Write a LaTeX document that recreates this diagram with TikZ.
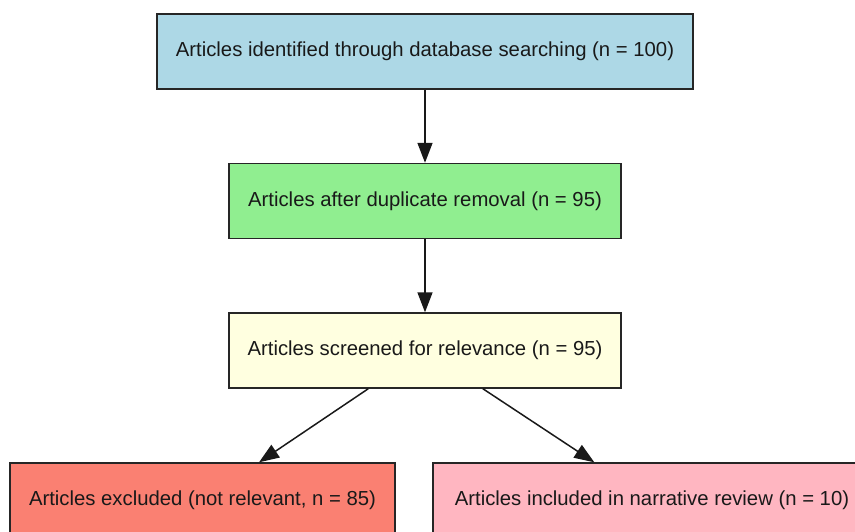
\documentclass[tikz,border=0pt]{standalone}
\usepackage{fontspec}
\setmainfont{Liberation Sans}
\usetikzlibrary{arrows.meta}
\definecolor{boxblue}{HTML}{ADD8E6}
\definecolor{boxgreen}{HTML}{90EE90}
\definecolor{boxyellow}{HTML}{FFFFE0}
\definecolor{boxsalmon}{HTML}{FA8072}
\definecolor{boxpink}{HTML}{FFB6C1}
\tikzset{
  flowbox/.style={draw=black!85, line width=1.4pt, rectangle, inner sep=0pt,
    minimum height=75pt, font=\fontsize{20.3}{24}\selectfont, text=black!90},
  flowarrow/.style={line width=1.5pt, draw=black!90,
    -{Triangle[length=20pt,width=15pt]}}
}
\begin{document}
\begin{tikzpicture}[x=1pt,y=-1pt]
  \useasboundingbox (0,0) rectangle (855,532);
  \node[flowbox, fill=boxblue, minimum width=536pt] (ident) at (425,51.5)
    {Articles identified through database searching (n = 100)};
  \node[flowbox, fill=boxgreen, minimum width=392pt] (dedup) at (425,201)
    {Articles after duplicate removal (n = 95)};
  \node[flowbox, fill=boxyellow, minimum width=392pt] (screen) at (425,350.5)
    {Articles screened for relevance (n = 95)};
  \node[flowbox, fill=boxsalmon, minimum width=385pt] (excl) at (202.5,500.5)
    {Articles excluded (not relevant, n = 85)};
  \node[flowbox, fill=boxpink, minimum width=438pt] (incl) at (652,500.5)
    {Articles included in narrative review (n = 10)};
  \draw[flowarrow] (ident) -- (dedup);
  \draw[flowarrow] (dedup) -- (screen);
  \draw[flowarrow] (screen) -- (excl);
  \draw[flowarrow] (screen) -- (incl);
\end{tikzpicture}
\end{document}
